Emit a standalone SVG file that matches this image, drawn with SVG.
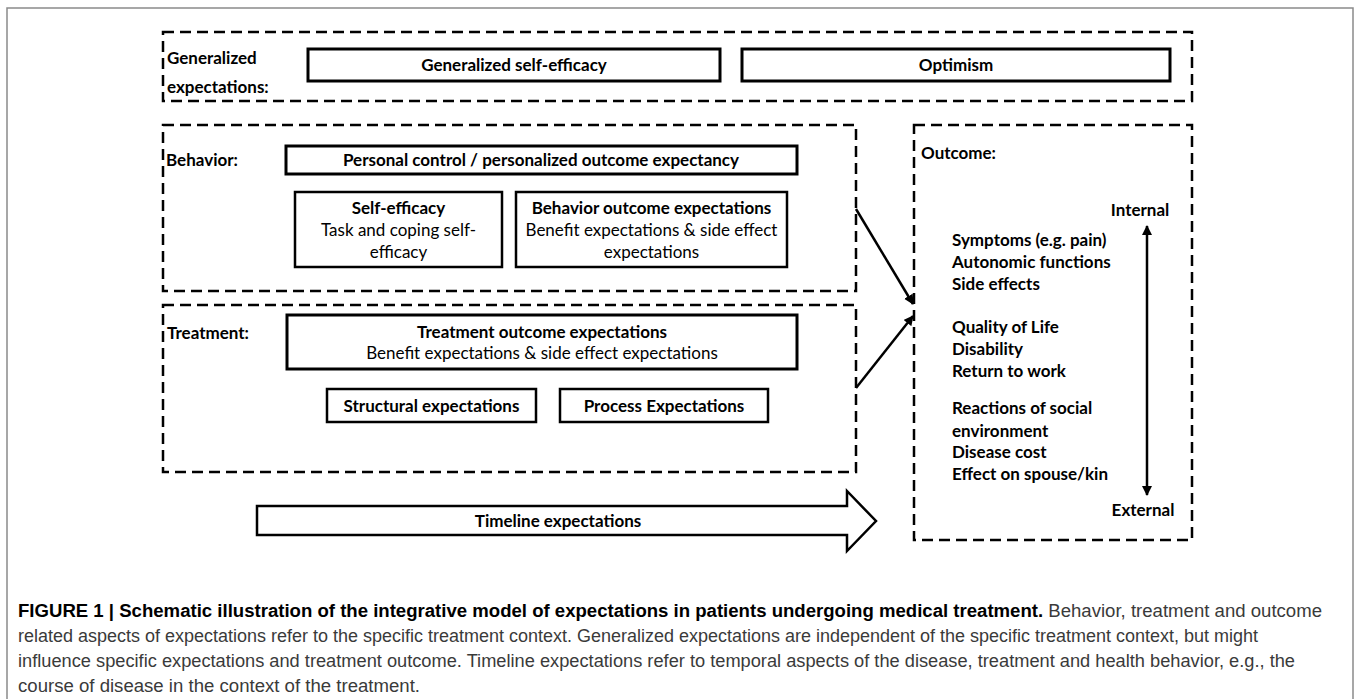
<svg xmlns="http://www.w3.org/2000/svg" width="1358" height="699" viewBox="0 0 1358 699">
<style>
.frame{fill:none;stroke:#8a8a8a;stroke-width:1.5}
.dash{fill:none;stroke:#000;stroke-width:2.5;stroke-dasharray:11,6}
.box{fill:#fff;stroke:#000;stroke-width:3}
.box2{fill:#fff;stroke:#000;stroke-width:2.5}
.lb{font-family:Lato,"Open Sans",sans-serif;font-size:17px;font-weight:bold;fill:#000}
.lr{font-family:Lato,"Open Sans",sans-serif;font-size:17px;fill:#000}
.c{text-anchor:middle}
.cap{font-family:"Liberation Sans",Arial,sans-serif;font-size:17.5px;fill:#3a3a3a}
.capb{font-weight:bold;fill:#000}
.conn{stroke:#000;stroke-width:2.5;fill:none}
</style>
<defs>
<marker id="ah" viewBox="0 0 10 10" refX="9" refY="5" markerWidth="4" markerHeight="4" orient="auto-start-reverse">
<path d="M0,0 L10,5 L0,10 z" fill="#000"/>
</marker>
</defs>
<rect x="0" y="0" width="1358" height="699" fill="#fff"/>
<rect class="frame" x="7" y="8" width="1346" height="700"/>

<g id="generalized">
<rect class="dash" x="163" y="32" width="1029" height="69"/>
<text class="lb" x="167" y="64">Generalized</text>
<text class="lb" x="167" y="93">expectations:</text>
</g>
<g id="gen-self-efficacy">
<rect class="box" x="308" y="49" width="412" height="32"/>
<text class="lb c" x="514" y="71">Generalized self-efficacy</text>
</g>
<g id="optimism">
<rect class="box" x="742" y="49" width="428" height="32"/>
<text class="lb c" x="956" y="71">Optimism</text>
</g>

<g id="behavior">
<rect class="dash" x="163" y="125" width="693" height="166"/>
<text class="lb" x="166" y="166">Behavior:</text>
</g>
<g id="personal-control">
<rect class="box" x="286" y="146" width="511" height="28"/>
<text class="lb c" x="541" y="166">Personal control / personalized outcome expectancy</text>
</g>
<g id="self-efficacy">
<rect class="box2" x="295" y="192" width="207" height="75"/>
<text class="lb c" x="398.5" y="214">Self-efficacy</text>
<text class="lr c" x="398.5" y="236">Task and coping self-</text>
<text class="lr c" x="398.5" y="258">efficacy</text>
</g>
<g id="behavior-outcome">
<rect class="box2" x="516" y="192" width="271" height="75"/>
<text class="lb c" x="651.5" y="214">Behavior outcome expectations</text>
<text class="lr c" x="651.5" y="236">Benefit expectations &amp; side effect</text>
<text class="lr c" x="651.5" y="258">expectations</text>
</g>

<g id="treatment">
<rect class="dash" x="163" y="305" width="693" height="167"/>
<text class="lb" x="167" y="339">Treatment:</text>
</g>
<g id="treatment-outcome">
<rect class="box" x="287" y="315" width="510" height="54"/>
<text class="lb c" x="542" y="338">Treatment outcome expectations</text>
<text class="lr c" x="542" y="359">Benefit expectations &amp; side effect expectations</text>
</g>
<g id="structural">
<rect class="box2" x="327" y="389" width="209" height="33"/>
<text class="lb c" x="431.5" y="412">Structural expectations</text>
</g>
<g id="process">
<rect class="box2" x="560" y="389" width="208" height="33"/>
<text class="lb c" x="664" y="412">Process Expectations</text>
</g>

<g id="timeline">
<polygon points="257,506 847,506 847,491 876,521 847,551 847,535 257,535" fill="#fff" stroke="#000" stroke-width="2.5" stroke-linejoin="miter"/>
<text class="lb c" x="558" y="527">Timeline expectations</text>
</g>

<g id="outcome">
<rect class="dash" x="914" y="125" width="278" height="415"/>
<text class="lb" x="921" y="159">Outcome:</text>
<text class="lb c" x="1140" y="216">Internal</text>
<text class="lb c" x="1143" y="516">External</text>
<text class="lb" x="952" y="246">Symptoms (e.g. pain)</text>
<text class="lb" x="952" y="268">Autonomic functions</text>
<text class="lb" x="952" y="290">Side effects</text>
<text class="lb" x="952" y="333">Quality of Life</text>
<text class="lb" x="952" y="355">Disability</text>
<text class="lb" x="952" y="377">Return to work</text>
<text class="lb" x="952" y="414">Reactions of social</text>
<text class="lb" x="952" y="437">environment</text>
<text class="lb" x="952" y="458">Disease cost</text>
<text class="lb" x="952" y="480">Effect on spouse/kin</text>
<line class="conn" x1="1147" y1="226" x2="1147" y2="495" stroke-width="2" marker-start="url(#ah)" marker-end="url(#ah)"/>
</g>

<g id="connectors">
<line class="conn" x1="856" y1="209" x2="913" y2="304" marker-end="url(#ah)"/>
<line class="conn" x1="856" y1="388" x2="913" y2="316" marker-end="url(#ah)"/>
</g>

<g id="caption">
<text class="cap" x="18" y="617" textLength="1304" lengthAdjust="spacingAndGlyphs"><tspan class="capb">FIGURE 1 | Schematic illustration of the integrative model of expectations in patients undergoing medical treatment.</tspan> Behavior, treatment and outcome</text>
<text class="cap" x="18" y="642" textLength="1240" lengthAdjust="spacingAndGlyphs">related aspects of expectations refer to the specific treatment context. Generalized expectations are independent of the specific treatment context, but might</text>
<text class="cap" x="18" y="667" textLength="1277" lengthAdjust="spacingAndGlyphs">influence specific expectations and treatment outcome. Timeline expectations refer to temporal aspects of the disease, treatment and health behavior, e.g., the</text>
<text class="cap" x="18" y="692" textLength="402" lengthAdjust="spacingAndGlyphs">course of disease in the context of the treatment.</text>
</g>
</svg>
